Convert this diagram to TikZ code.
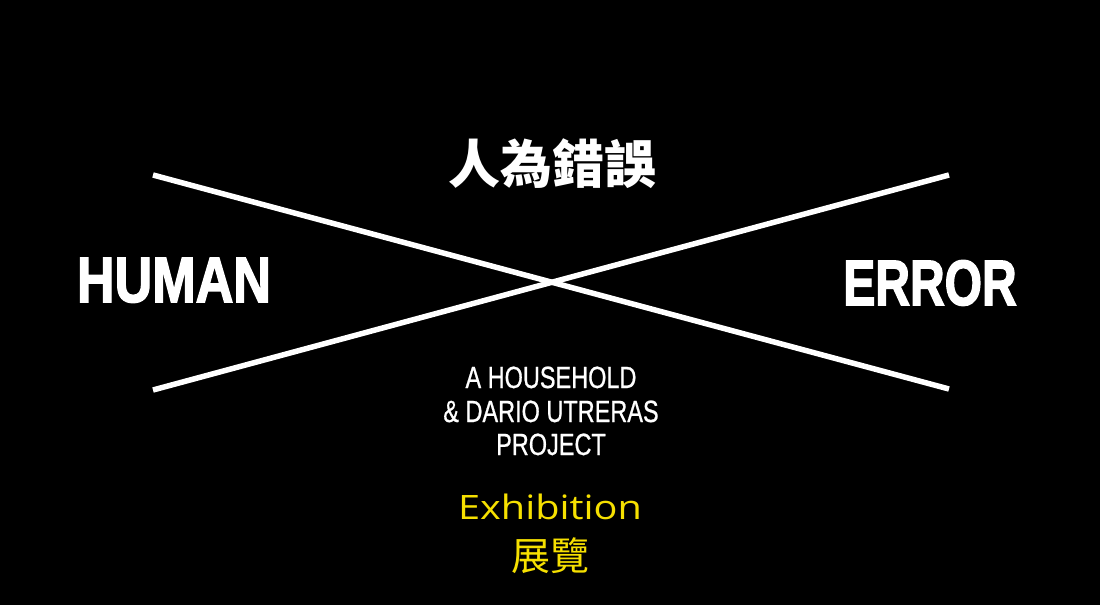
\documentclass[tikz,border=0pt]{standalone}
\usepackage{fontspec}
\usepackage{xcolor}
\usetikzlibrary{positioning}
\newfontfamily\wordfont{Liberation Sans}[UprightFeatures={FakeBold=0.8}]
\newfontfamily\heavyfont{Liberation Sans}[BoldFeatures={FakeBold=2.5}]
\newfontfamily\showfont{Open Sans}
\newfontfamily\cjkfont{Noto Sans CJK TC}
\definecolor{showyellow}{RGB}{246,224,0}
\tikzset{%
	big word/.style={
		text=white,
		inner sep=0pt,
		anchor=base,
		font=\heavyfont\bfseries\fontsize{64}{64}\selectfont
	},
	project line/.style={
		text=white,
		inner sep=0pt,
		anchor=base,
		xscale=0.765,
		font=\wordfont\fontsize{30.7}{30.7}\selectfont
	},
}
\begin{document}
\begin{tikzpicture}[
			x=1pt, y=-1pt,
			cross line/.style={draw=white, line width=5.5pt},
			every node/.style={inner sep=0pt}
			]
			
			\fill[black] (0,0) rectangle (1100,605);
			\useasboundingbox (0,0) rectangle (1100,605);
			
			% The cross
			\coordinate (UL) at (153,175);
			\coordinate (LR) at (949,389);
			\coordinate (LL) at (153,390);
			\coordinate (UR) at (949,175);
			\draw[cross line] (UL) -- (LR);
			\draw[cross line] (LL) -- (UR);
			
			% Title
			\node[text=white, font=\cjkfont\bfseries\fontsize{52}{52}\selectfont] (T) at (552,164) {人為錯誤};
			\node[big word, xscale=0.815] (H) at (174,302) {HUMAN};
			\node[big word, xscale=0.75] (E) at (930,305) {ERROR};
			
			% Credits
			\node[project line] (P1) at (551,388) {A HOUSEHOLD};
			\node[project line] (P2) at (551,422) {\& DARIO UTRERAS};
			\node[project line] (P3) at (551,455) {PROJECT};
			
			\node[text=showyellow, anchor=base, xscale=1.18, font=\showfont\fontsize{33.6}{33.6}\selectfont] (X) at (550,519) {Exhibition};
			\node[text=showyellow, font=\cjkfont\fontsize{39}{39}\selectfont] (Z) at (550,556) {展覽};
			
		\end{tikzpicture}
\end{document}
